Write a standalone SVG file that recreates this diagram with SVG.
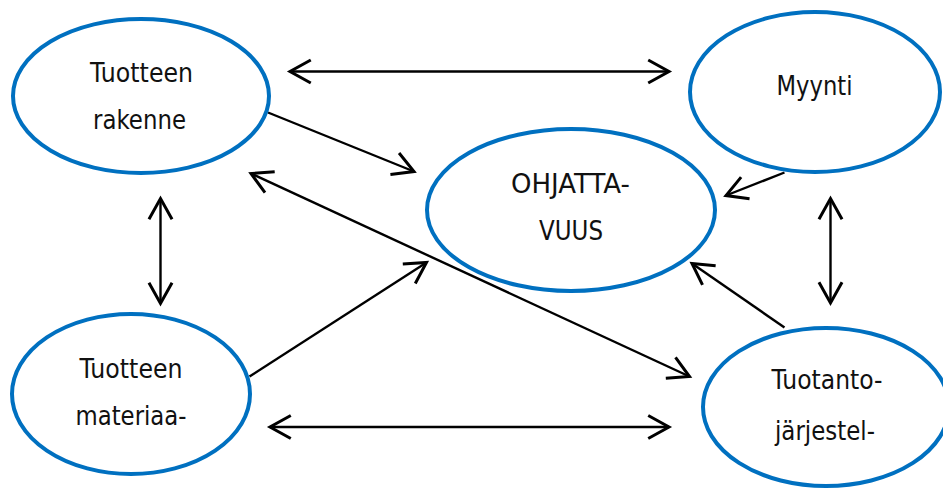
<svg xmlns="http://www.w3.org/2000/svg" width="943" height="488" viewBox="0 0 943 488">
  <style>
    .node ellipse { fill: #ffffff; stroke: #0070C0; stroke-width: 4; }
    .node text { font-family: "DejaVu Sans", Verdana, sans-serif; font-size: 26px; fill: #111111; text-anchor: middle; }
    .link { stroke: #000000; stroke-width: 2.4; fill: none; }
  </style>
  <defs>
    <marker id="arrow" markerUnits="userSpaceOnUse" markerWidth="30" markerHeight="30" viewBox="-22 -13 26 26" refX="0" refY="0" orient="auto-start-reverse">
      <path d="M -18,-10 L 0,0 L -18,10" fill="none" stroke="#000000" stroke-width="2.6" stroke-linejoin="miter"/>
    </marker>
  </defs>

  <!-- connectors -->
  <g id="connectors">
    <line class="link" x1="290" y1="71.5" x2="669" y2="71.5" marker-start="url(#arrow)" marker-end="url(#arrow)"/>
    <line class="link" x1="268" y1="112.5" x2="414" y2="171.5" marker-end="url(#arrow)"/>
    <line class="link" x1="784.5" y1="172.5" x2="726" y2="195.5" marker-end="url(#arrow)"/>
    <line class="link" x1="160.5" y1="198.5" x2="160.5" y2="303.5" marker-start="url(#arrow)" marker-end="url(#arrow)"/>
    <line class="link" x1="830.5" y1="198.5" x2="830.5" y2="303" marker-start="url(#arrow)" marker-end="url(#arrow)"/>
    <line class="link" x1="251" y1="173.5" x2="689.5" y2="376.5" marker-start="url(#arrow)" marker-end="url(#arrow)"/>
    <line class="link" x1="249.5" y1="376.5" x2="426.5" y2="262.5" marker-end="url(#arrow)"/>
    <line class="link" x1="784.5" y1="327.5" x2="692" y2="263.5" marker-end="url(#arrow)"/>
    <line class="link" x1="270" y1="427" x2="669" y2="427" marker-start="url(#arrow)" marker-end="url(#arrow)"/>
  </g>

  <!-- nodes -->
  <g id="node-rakenne" class="node">
    <ellipse cx="141" cy="96" rx="128" ry="77"/>
    <text x="141.5" y="82" textLength="103" lengthAdjust="spacingAndGlyphs">Tuotteen</text>
    <text x="139.5" y="129" textLength="93" lengthAdjust="spacingAndGlyphs">rakenne</text>
  </g>

  <g id="node-ohjattavuus" class="node">
    <ellipse cx="571" cy="210" rx="144" ry="81"/>
    <text x="570.5" y="192.5" textLength="119" lengthAdjust="spacingAndGlyphs">OHJATTA-</text>
    <text x="571" y="240" textLength="64" lengthAdjust="spacingAndGlyphs">VUUS</text>
  </g>

  <g id="node-myynti" class="node">
    <ellipse cx="815" cy="92" rx="125" ry="80"/>
    <text x="814.5" y="95" textLength="76" lengthAdjust="spacingAndGlyphs">Myynti</text>
  </g>

  <g id="node-materiaali" class="node">
    <ellipse cx="131" cy="394" rx="119" ry="80"/>
    <text x="131" y="378" textLength="103" lengthAdjust="spacingAndGlyphs">Tuotteen</text>
    <text x="131" y="425" textLength="111" lengthAdjust="spacingAndGlyphs">materiaa-</text>
  </g>

  <g id="node-tuotanto" class="node">
    <ellipse cx="826" cy="407" rx="123" ry="79"/>
    <text x="827" y="389" textLength="111" lengthAdjust="spacingAndGlyphs">Tuotanto-</text>
    <text x="825" y="440" textLength="100" lengthAdjust="spacingAndGlyphs">järjestel-</text>
  </g>
</svg>
